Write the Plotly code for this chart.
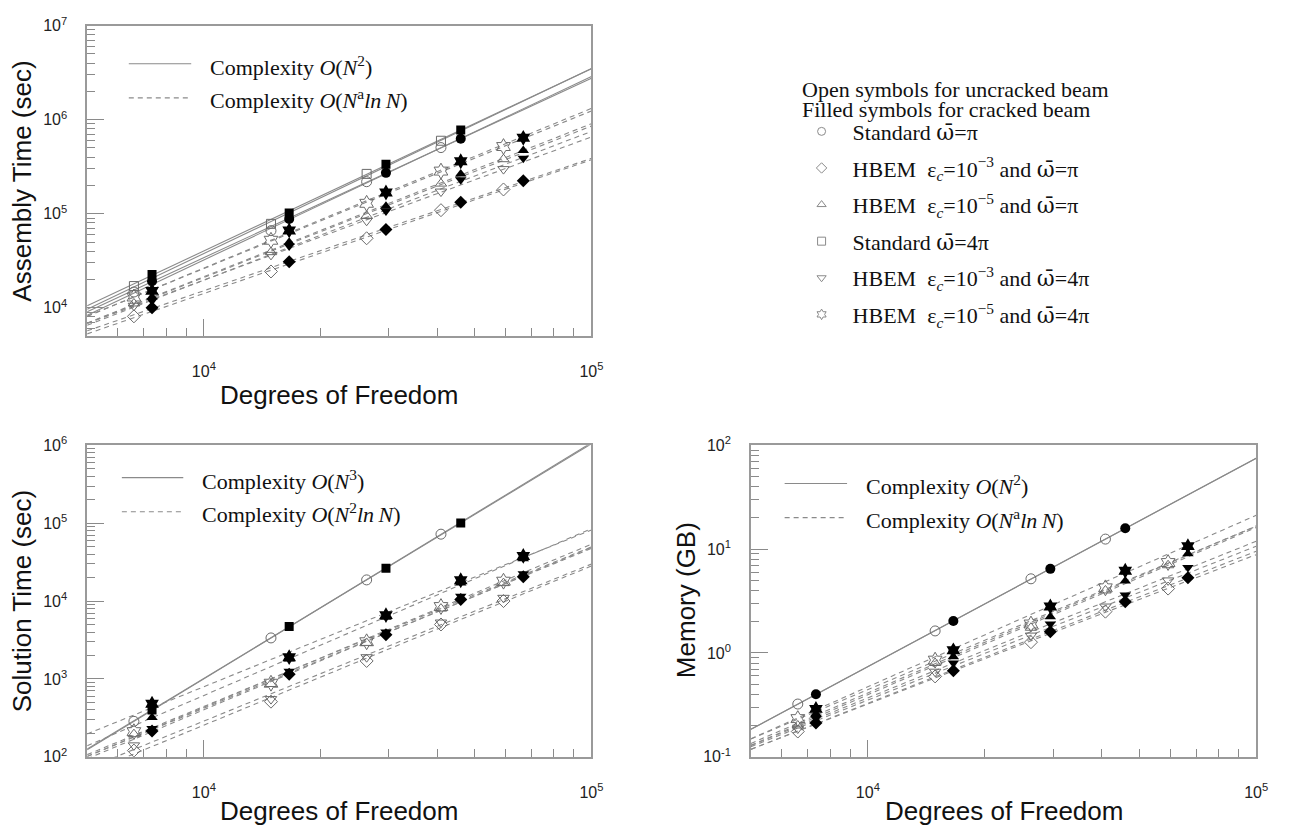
import numpy as np
import plotly.graph_objects as go

W, H = 1292, 837

# ---------------- data ----------------
dof_uncracked = [6600, 14900, 26300, 40900, 59300]
dof_cracked = [7350, 16600, 29500, 46000, 66700]

# Assembly time (sec)
asm_std_pi_open = [14700, 66000, 219000, 505000]
asm_std_pi_crk = [19100, 88000, 272000, 627000]
asm_hb3_pi_open = [8100, 24300, 54800, 109000, 181000]
asm_hb3_pi_crk = [10000, 30900, 68000, 132000, 224000]
asm_hb5_pi_open = [11100, 39000, 94900, 209000, 380000]
asm_hb5_pi_crk = [13000, 49800, 120000, 265000, 470000]
asm_std_4pi_open = [17000, 78000, 265000, 597000]
asm_std_4pi_crk = [22600, 102000, 336000, 776000]
asm_hb3_4pi_open = [10500, 36500, 84100, 172000, 298000]
asm_hb3_4pi_crk = [11900, 45300, 107000, 229000, 388000]
asm_hb5_4pi_open = [13000, 52200, 129000, 284000, 518000]
asm_hb5_4pi_crk = [15100, 66400, 168000, 361000, 641000]

# Solution time (sec)
sol_std_pi_open = [285, 3360, 18700, 72300]
sol_std_4pi_crk = [400, 4700, 26300, 101000]
sol_hb3_pi_open = [120, 510, 1700, 5000, 10000]
sol_hb3_pi_crk = [214, 1150, 3700, 10500, 20500]
sol_hb5_pi_open = [195, 860, 2900, 8000, 17000]
sol_hb5_pi_crk = [320, 1800, 6200, 17000, 35000]
sol_hb3_4pi_open = [140, 550, 1900, 5300, 11000]
sol_hb3_4pi_crk = [230, 1250, 4000, 11500, 22500]
sol_hb5_4pi_open = [210, 880, 3000, 8500, 18000]
sol_hb5_4pi_crk = [480, 1900, 6600, 18500, 38000]

# Memory (GB)
mem_std_pi_open = [0.322, 1.63, 5.18, 12.5]
mem_std_pi_crk = [0.40, 2.03, 6.46, 15.9]
mem_hb3_pi_open = [0.175, 0.594, 1.27, 2.5, 4.17]
mem_hb3_pi_crk = [0.212, 0.673, 1.6, 3.12, 5.3]
mem_hb5_pi_open = [0.2, 0.80, 1.75, 4.0, 7.0]
mem_hb5_pi_crk = [0.26, 0.917, 2.23, 4.93, 9.04]
mem_hb3_4pi_open = [0.187, 0.66, 1.47, 2.8, 5.0]
mem_hb3_4pi_crk = [0.233, 0.80, 1.9, 3.61, 6.67]
mem_hb5_4pi_open = [0.233, 0.853, 1.9, 4.24, 7.43]
mem_hb5_4pi_crk = [0.289, 1.06, 2.8, 6.2, 10.7]

x_range_dof = [5000, 100000]
x_tick_vals = [1e4, 1e5]
x_tick_text = ["10<sup>4</sup>", "10<sup>5</sup>"]

# ---------------- styling ----------------
OMB = "<span style='font-family:DejaVu Serif'>\u03c9\u0304</span>"
EPS = "\u03b5<sub><i>c</i></sub>"
NB = "\u00a0"
method_names = {
    "std_pi": f"Standard{NB}{OMB}=\u03c0",
    "hb3_pi": f"HBEM{NB}{NB}{EPS}=10<sup>\u22123</sup> and {OMB}=\u03c0",
    "hb5_pi": f"HBEM{NB}{NB}{EPS}=10<sup>\u22125</sup> and {OMB}=\u03c0",
    "std_4pi": f"Standard{NB}{OMB}=4\u03c0",
    "hb3_4pi": f"HBEM{NB}{NB}{EPS}=10<sup>\u22123</sup> and {OMB}=4\u03c0",
    "hb5_4pi": f"HBEM{NB}{NB}{EPS}=10<sup>\u22125</sup> and {OMB}=4\u03c0",
}
method_symbol = {"std_pi": "circle", "hb3_pi": "diamond", "hb5_pi": "triangle-up",
                 "std_4pi": "square", "hb3_4pi": "triangle-down", "hb5_4pi": "hexagram"}
method_size = {"std_pi": 10, "hb3_pi": 10, "hb5_pi": 10, "std_4pi": 9,
               "hb3_4pi": 10, "hb5_4pi": 12}
legend_order = ["std_pi", "hb3_pi", "hb5_pi", "std_4pi", "hb3_4pi", "hb5_4pi"]

LINE_GRAY = "#8a8a8a"
OPEN_COL = "#6a6a6a"
FRAME = "#9a9a9a"
DASH = "5px,4px"
SANS = "Liberation Sans, Arial, sans-serif"
SERIF = "Liberation Serif, Times New Roman, serif"

XS = np.geomspace(x_range_dof[0], x_range_dof[1], 60)


def fit_curve(x, y, form):
    x = np.asarray(x, float)
    y = np.asarray(y, float)
    lx = np.log10(x)
    if form == "power":
        k, b = np.polyfit(lx, np.log10(y), 1)
        return 10 ** (b + k * np.log10(XS))
    a, b = np.polyfit(lx, np.log10(y / np.log(x)), 1)
    return 10 ** (b + a * np.log10(XS)) * np.log(XS)


panels = {
    1: [("std_pi", False, asm_std_pi_open), ("std_pi", True, asm_std_pi_crk),
        ("hb3_pi", False, asm_hb3_pi_open), ("hb3_pi", True, asm_hb3_pi_crk),
        ("hb5_pi", False, asm_hb5_pi_open), ("hb5_pi", True, asm_hb5_pi_crk),
        ("std_4pi", False, asm_std_4pi_open), ("std_4pi", True, asm_std_4pi_crk),
        ("hb3_4pi", False, asm_hb3_4pi_open), ("hb3_4pi", True, asm_hb3_4pi_crk),
        ("hb5_4pi", False, asm_hb5_4pi_open), ("hb5_4pi", True, asm_hb5_4pi_crk)],
    2: [("std_pi", False, sol_std_pi_open), ("std_4pi", True, sol_std_4pi_crk),
        ("hb3_pi", False, sol_hb3_pi_open), ("hb3_pi", True, sol_hb3_pi_crk),
        ("hb5_pi", False, sol_hb5_pi_open), ("hb5_pi", True, sol_hb5_pi_crk),
        ("hb3_4pi", False, sol_hb3_4pi_open), ("hb3_4pi", True, sol_hb3_4pi_crk),
        ("hb5_4pi", False, sol_hb5_4pi_open), ("hb5_4pi", True, sol_hb5_4pi_crk)],
    3: [("std_pi", False, mem_std_pi_open), ("std_pi", True, mem_std_pi_crk),
        ("hb3_pi", False, mem_hb3_pi_open), ("hb3_pi", True, mem_hb3_pi_crk),
        ("hb5_pi", False, mem_hb5_pi_open), ("hb5_pi", True, mem_hb5_pi_crk),
        ("hb3_4pi", False, mem_hb3_4pi_open), ("hb3_4pi", True, mem_hb3_4pi_crk),
        ("hb5_4pi", False, mem_hb5_4pi_open), ("hb5_4pi", True, mem_hb5_4pi_crk)],
}

fig = go.Figure()

for p, series in panels.items():
    xa = "x" if p == 1 else f"x{p}"
    ya = "y" if p == 1 else f"y{p}"
    # fitted complexity lines
    for key, filled, vals in series:
        xs = (dof_cracked if filled else dof_uncracked)[:len(vals)]
        solid = key.startswith("std")
        yy = fit_curve(xs, vals, "power" if solid else "nlogn")
        fig.add_trace(go.Scatter(
            x=XS, y=yy, mode="lines", xaxis=xa, yaxis=ya, showlegend=False,
            hoverinfo="skip",
            line=dict(color=LINE_GRAY, width=1.1, dash="solid" if solid else DASH)))
    # open symbols then filled symbols
    for want_filled in (False, True):
        for key, filled, vals in series:
            if filled != want_filled:
                continue
            xs = (dof_cracked if filled else dof_uncracked)[:len(vals)]
            sym = method_symbol[key] + ("" if filled else "-open")
            fig.add_trace(go.Scatter(
                x=xs, y=vals, mode="markers", xaxis=xa, yaxis=ya,
                name=method_names[key], showlegend=False,
                marker=dict(symbol=sym, size=method_size[key],
                            color="#000000" if filled else OPEN_COL,
                            line=dict(width=1 if not filled else 0,
                                      color=OPEN_COL))))

# legend entries (open symbols)
for i, key in enumerate(legend_order):
    fig.add_trace(go.Scatter(
        x=[None], y=[None], mode="markers", xaxis="x", yaxis="y",
        name=method_names[key], legendgroup=f"g{i}", showlegend=True,
        marker=dict(symbol=method_symbol[key] + "-open", size=8,
                    color="#8a8a8a", line=dict(width=1))))


def xd(a, b):
    return [a / W, b / W]


def yd(top, bottom):
    return [1 - bottom / H, 1 - top / H]


def minor_vals(lo_exp, hi_exp):
    return [k * 10.0 ** e for e in range(lo_exp, hi_exp) for k in range(2, 10)]


common_axis = dict(
    type="log", showgrid=False, zeroline=False, showline=True,
    linecolor=FRAME, linewidth=1.6, mirror=True,
    ticks="inside", ticklen=17, tickwidth=1.3, tickcolor="#8a8a8a",
    tickfont=dict(family=SANS, size=16, color="#222222"),
    tickmode="array",
)


def make_x(domain, anchor):
    d = dict(common_axis)
    d.update(domain=domain, anchor=anchor,
             range=[np.log10(x_range_dof[0]), np.log10(x_range_dof[1])],
             tickvals=x_tick_vals, ticktext=x_tick_text, ticklabelstandoff=20,
             minor=dict(ticks="inside", ticklen=8, tickwidth=1.3,
                        tickcolor="#8a8a8a", tickmode="array",
                        tickvals=minor_vals(3, 5), showgrid=False))
    return d


def make_y(domain, anchor, lo, hi):
    d = dict(common_axis)
    d.update(domain=domain, anchor=anchor, range=[lo, hi],
             tickvals=[10.0 ** e for e in range(int(np.ceil(lo)), hi + 1)],
             ticktext=[f"10<sup>{e}</sup>" for e in range(int(np.ceil(lo)), hi + 1)],
             ticklabelstandoff=15,
             minor=dict(ticks="inside", ticklen=8, tickwidth=1.3,
                        tickcolor="#8a8a8a", tickmode="array",
                        tickvals=minor_vals(int(np.floor(lo)), hi), showgrid=False))
    return d


layout = dict(
    width=W, height=H, margin=dict(l=0, r=0, t=0, b=0),
    paper_bgcolor="white", plot_bgcolor="white",
    xaxis=make_x(xd(88, 597), "y"),
    yaxis=make_y(yd(15, 333), "x", np.log10(5000), 7),
    xaxis2=make_x(xd(88, 597), "y2"),
    yaxis2=make_y(yd(445, 764), "x2", 2, 6),
    xaxis3=make_x(xd(758, 1268), "y3"),
    yaxis3=make_y(yd(445, 764), "x3", -1, 2),
    legend=dict(x=798 / W, y=1 - 102 / H, xanchor="left", yanchor="top",
                font=dict(family=SERIF, size=22, color="#111111"),
                itemwidth=52, tracegroupgap=5, bgcolor="rgba(0,0,0,0)",
                borderwidth=0),
    showlegend=True,
)
fig.update_layout(**layout)

annotations = []
shapes = []


def ann(text, px, py, size, family, xanchor="center", angle=0, color="#111111"):
    annotations.append(dict(text=text, x=px / W, y=1 - py / H, xref="paper",
                            yref="paper", showarrow=False, xanchor=xanchor,
                            yanchor="middle", textangle=angle,
                            font=dict(family=family, size=size, color=color)))


# axis titles
ann("Assembly Time (sec)", 22, 174, 26, SANS, angle=-90)
ann("Solution Time (sec)", 22, 604, 26, SANS, angle=-90)
ann("Memory (GB)", 692, 604, 26, SANS, angle=-90)
ann("Degrees of Freedom", 342, 393, 26, SANS)
ann("Degrees of Freedom", 342, 820, 26, SANS)
ann("Degrees of Freedom", 1013, 820, 26, SANS)

# in-panel complexity legends
in_legends = [
    (130, 193, 54, 89, 210, "Complexity <i>O</i>(<i>N</i><sup>2</sup>)",
     "Complexity <i>O</i>(<i>N</i><sup>a</sup><i>ln</i>\u2009<i>N</i>)"),
    (123, 185, 478, 513, 202, "Complexity <i>O</i>(<i>N</i><sup>3</sup>)",
     "Complexity <i>O</i>(<i>N</i><sup>2</sup><i>ln</i>\u2009<i>N</i>)"),
    (792, 855, 484, 519, 872, "Complexity <i>O</i>(<i>N</i><sup>2</sup>)",
     "Complexity <i>O</i>(<i>N</i><sup>a</sup><i>ln</i>\u2009<i>N</i>)"),
]
for x0, x1, ys, ydsh, tx, t1, t2 in in_legends:
    shapes.append(dict(type="line", xref="paper", yref="paper", x0=x0 / W, x1=x1 / W,
                       y0=1 - ys / H, y1=1 - ys / H,
                       line=dict(color=LINE_GRAY, width=1.1)))
    shapes.append(dict(type="line", xref="paper", yref="paper", x0=x0 / W, x1=x1 / W,
                       y0=1 - ydsh / H, y1=1 - ydsh / H,
                       line=dict(color=LINE_GRAY, width=1.1, dash=DASH)))
    ann(t1, tx, ys + 2, 22, SERIF, xanchor="left")
    ann(t2, tx, ydsh + 1, 22, SERIF, xanchor="left")

# header of symbol legend
ann("Open symbols for uncracked beam", 807, 80, 22, SERIF, xanchor="left")
ann("Filled symbols for cracked beam", 807, 101, 22, SERIF, xanchor="left")

fig.update_layout(annotations=annotations, shapes=shapes)

fig.write_html("out.html")
